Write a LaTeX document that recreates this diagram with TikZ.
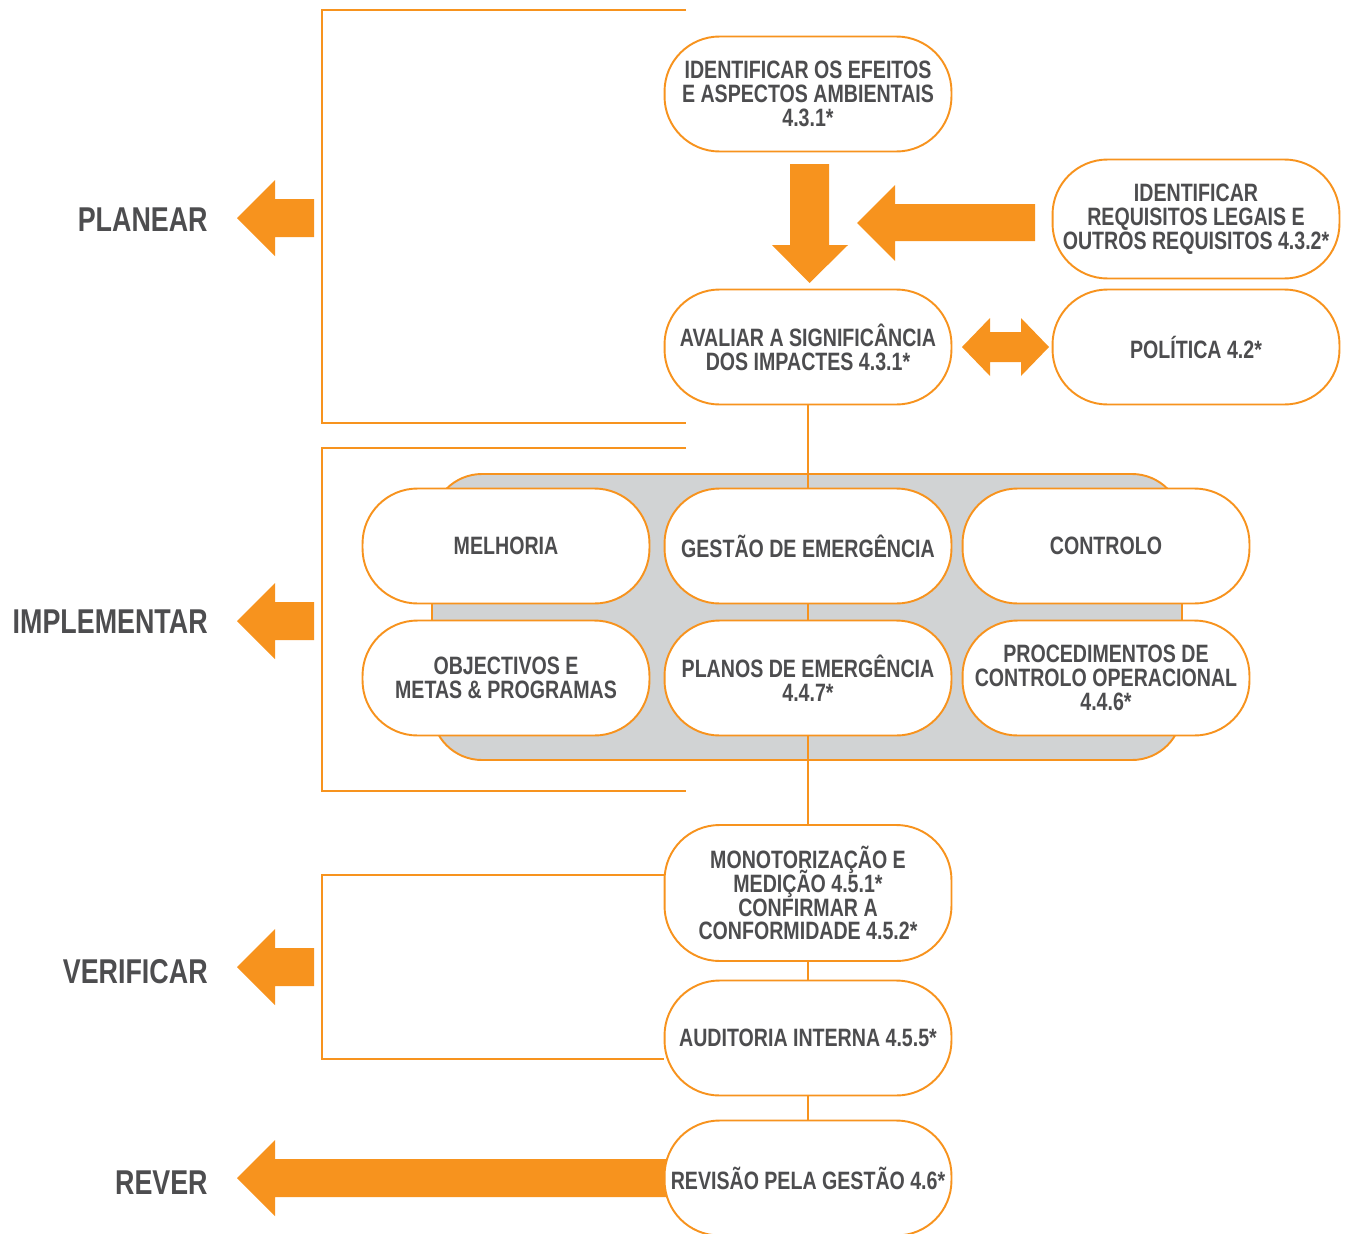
\documentclass[tikz,border=0pt]{standalone}
\usepackage{fontspec}
\setmainfont{Liberation Sans}
\newfontfamily\condfont[FakeStretch=0.78]{Liberation Sans}
\usepackage{tikz}
\usetikzlibrary{backgrounds}
\definecolor{orangeA}{HTML}{F7931E}
\definecolor{greyfill}{HTML}{D1D3D4}
\definecolor{textgrey}{HTML}{4D4D4F}
\newcommand\stagefont{\condfont\bfseries\fontsize{14.3}{13.6}\selectfont\lineskiplimit=-20pt\relax}
\tikzset{
  stage/.style={draw=orangeA, line width=1.1pt, fill=white, rounded corners=1.1cm,
    minimum width=5.74cm, minimum height=2.3cm, inner sep=0pt, align=center,
    text=textgrey, font=\stagefont},
  phase/.style={anchor=east, inner sep=0pt, text=textgrey, text depth=0pt,
    font=\condfont\bfseries\fontsize{19.6}{20}\selectfont},
  bracket/.style={draw=orangeA, line width=1.1pt},
  fatarrow/.style={fill=orangeA, draw=none},
}

\begin{document}
\begin{tikzpicture}[x=0.02cm, y=-0.02cm]
      \useasboundingbox (0,0) rectangle (1346,1234);
      % brackets
      \draw[bracket] (686,10) -- (322,10) -- (322,423) -- (686,423);
      \draw[bracket] (686,448) -- (322,448) -- (322,791) -- (686,791);
      % phases
      \node[phase] (plan) at (208,220) {PLANEAR};
      \node[phase] (impl) at (208,622) {IMPLEMENTAR};
      \node[phase] (verif) at (208,971) {VERIFICAR};
      \node[phase] (rever) at (208,1183) {REVER};
      \fill[fatarrow] (237,218) -- (275,180) -- (275,199) -- (314,199) -- (314,237) -- (275,237) -- (275,256) -- cycle;
      \fill[fatarrow] (237,621) -- (275,583) -- (275,602) -- (314,602) -- (314,640) -- (275,640) -- (275,659) -- cycle;
      \fill[fatarrow] (237,967) -- (275,929) -- (275,948) -- (314,948) -- (314,986) -- (275,986) -- (275,1005) -- cycle;
      \fill[fatarrow] (237,1178) -- (275,1140) -- (275,1159) -- (668,1159) -- (668,1197) -- (275,1197) -- (275,1216) -- cycle;
      % planear
      \node[stage] (efeitos) at (808,94) {IDENTIFICAR OS EFEITOS\\E ASPECTOS AMBIENTAIS\\4.3.1*};
      \node[stage, minimum height=2.38cm] (legais) at (1196,219) {IDENTIFICAR\\REQUISITOS LEGAIS E\\OUTROS REQUISITOS 4.3.2*};
      \node[stage] (aval) at (808,347) {AVALIAR A SIGNIFICÂNCIA\\DOS IMPACTES 4.3.1*};
      \node[stage] (polit) at (1196,347) {POLÍTICA 4.2*};
      \fill[fatarrow] (790,164) -- (829,164) -- (829,245) -- (848,245) -- (809.5,283) -- (772,245) -- (790,245) -- cycle;
      \fill[fatarrow] (1035,204) -- (895,204) -- (895,185) -- (857,223) -- (895,261) -- (895,241) -- (1035,241) -- cycle;
      \fill[fatarrow] (962,347) -- (990,318) -- (990,332) -- (1021,332) -- (1021,318) -- (1049,347) -- (1021,376) -- (1021,362) -- (990,362) -- (990,376) -- cycle;
      % implementar
      \node[stage] (melh) at (506,546) {MELHORIA};
      \node[stage] (gestao) at (808,546) {GESTÃO DE EMERGÊNCIA};
      \node[stage] (contr) at (1106,546) {CONTROLO};
      \node[stage] (objec) at (506,678) {OBJECTIVOS E\\METAS \& PROGRAMAS};
      \node[stage] (planos) at (808,678) {PLANOS DE EMERGÊNCIA\\4.4.7*};
      \node[stage] (proced) at (1106,678) {PROCEDIMENTOS DE\\CONTROLO OPERACIONAL\\4.4.6*};
      % verificar / rever
      \node[stage, minimum height=2.72cm] (monit) at (808,893) {MONOTORIZAÇÃO E\\MEDIÇÃO 4.5.1*\\CONFIRMAR A\\CONFORMIDADE 4.5.2*};
      \node[stage] (audit) at (808,1038) {AUDITORIA INTERNA 4.5.5*};
      \node[stage] (revis) at (808,1178) {REVISÃO PELA GESTÃO 4.6*};
      \draw[bracket] (monit.west |- 0,875) -- (322,875) -- (322,1059) -- (audit.west |- 0,1059);
      \begin{scope}[on background layer]
        \fill[greyfill, draw=orangeA, line width=1.1pt, rounded corners=1cm] (432,474) rectangle (1182,760);
        \draw[bracket] (aval.south) -- (monit.north);
        \draw[bracket] (monit.south) -- (audit.north);
        \draw[bracket] (audit.south) -- (revis.north);
      \end{scope}
    \end{tikzpicture}
\end{document}
